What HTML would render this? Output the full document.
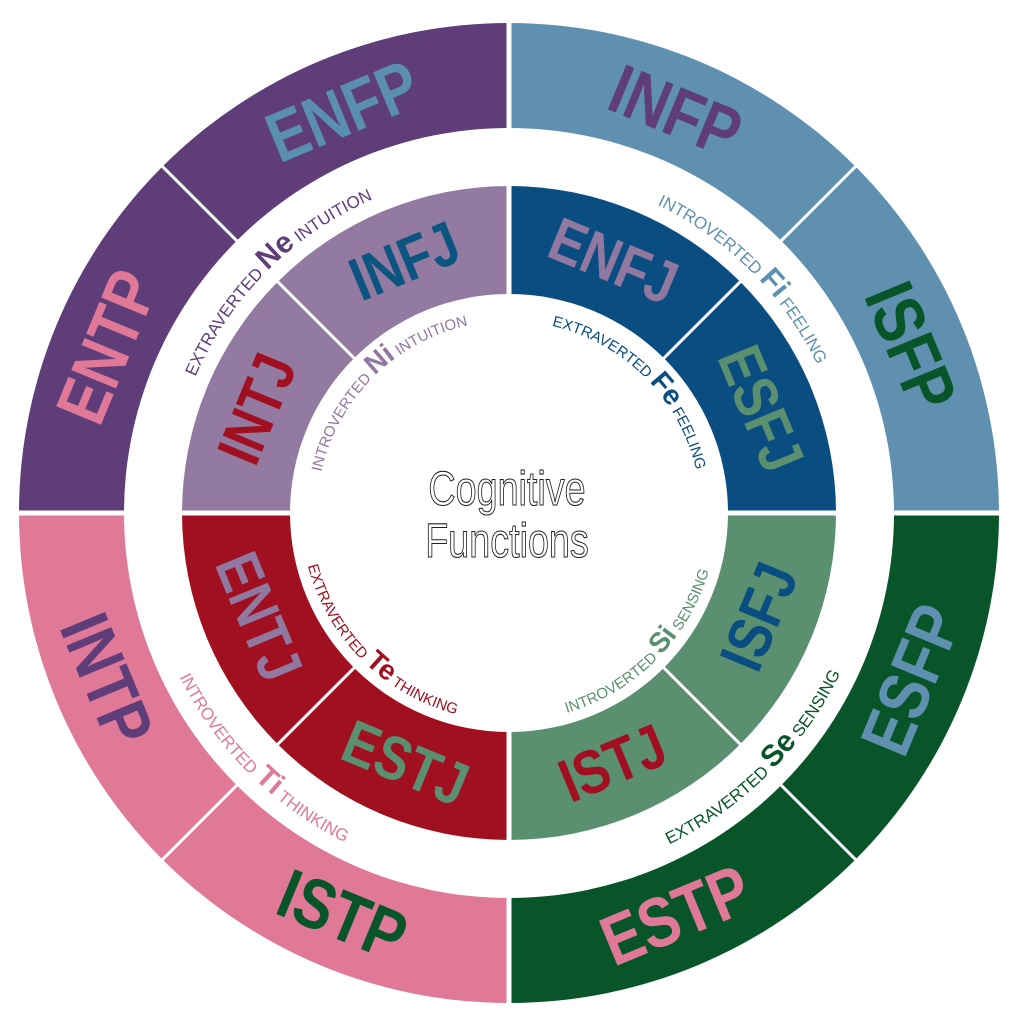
<!DOCTYPE html>
<html><head><meta charset="utf-8"><style>
html,body{margin:0;padding:0;background:#fff;}
svg{display:block}
.big{font-family:"Liberation Sans",sans-serif;font-weight:bold;font-size:64px;text-anchor:middle;dominant-baseline:central}
.mid{font-family:"Liberation Sans",sans-serif;font-weight:bold;font-size:56px;text-anchor:middle;dominant-baseline:central}
.lab{font-family:"Liberation Sans Narrow","Liberation Sans",sans-serif;font-size:17px;text-anchor:middle}
.ilab{font-family:"Liberation Sans Narrow","Liberation Sans",sans-serif;font-size:15px;text-anchor:middle}
.ab{font-weight:bold;font-size:30px;font-family:"Liberation Sans",sans-serif}
.iab{font-weight:bold;font-size:28px;font-family:"Liberation Sans",sans-serif}
</style></head><body>
<svg width="1024" height="1024" viewBox="0 0 1024 1024" xmlns="http://www.w3.org/2000/svg">
<defs>
<path id="ot" d="M170,512 A342,342 0 0 1 854,512"/>
<path id="ob" d="M144,512 A368,368 0 0 0 880,512"/>
<path id="it" d="M320,512 A192,192 0 0 1 704,512"/>
<path id="ib" d="M304,512 A208,208 0 0 0 720,512"/>
</defs>
<g transform="translate(-3,1)">
<path fill="#5e3d78" d="M22,512 A490,490 0 0 1 512,22 L512,127 A385,385 0 0 0 127,512Z"/>
<path fill="#6090b0" d="M512,22 A490,490 0 0 1 1002,512 L897,512 A385,385 0 0 0 512,127Z"/>
<path fill="#08552a" d="M1002,512 A490,490 0 0 1 512,1002 L512,897 A385,385 0 0 0 897,512Z"/>
<path fill="#e07898" d="M512,1002 A490,490 0 0 1 22,512 L127,512 A385,385 0 0 0 512,897Z"/>
<path fill="#927aa0" d="M185,512 A327,327 0 0 1 512,185 L512,293 A219,219 0 0 0 293,512Z"/>
<path fill="#0a4d80" d="M512,185 A327,327 0 0 1 839,512 L731,512 A219,219 0 0 0 512,293Z"/>
<path fill="#5a9070" d="M839,512 A327,327 0 0 1 512,839 L512,731 A219,219 0 0 0 731,512Z"/>
<path fill="#a01020" d="M512,839 A327,327 0 0 1 185,512 L293,512 A219,219 0 0 0 512,731Z"/>
<g stroke="#fff">
<line x1="512" y1="0" x2="512" y2="1024" stroke-width="5"/>
<line x1="0" y1="512" x2="1024" y2="512" stroke-width="5"/>
<line x1="0" y1="0" x2="1024" y2="1024" stroke-width="3"/>
<line x1="1024" y1="0" x2="0" y2="1024" stroke-width="3"/>
</g>
<text class="big" fill="#5a8fb0" transform="translate(345.5,110) rotate(-22.5) scale(0.92,1.1)">ENFP</text>
<text class="big" fill="#5e3d78" transform="translate(678.5,110) rotate(22.5) scale(0.92,1.1)">INFP</text>
<text class="big" fill="#e07898" transform="translate(110,345.5) rotate(-67.5) scale(0.92,1.1)">ENTP</text>
<text class="big" fill="#08552a" transform="translate(914,345.5) rotate(67.5) scale(0.92,1.1)">ISFP</text>
<text class="big" fill="#6090b0" transform="translate(914,678.5) rotate(-67.5) scale(0.92,1.1)">ESFP</text>
<text class="big" fill="#e07898" transform="translate(678.5,914) rotate(-22.5) scale(0.92,1.1)">ESTP</text>
<text class="big" fill="#08552a" transform="translate(345.5,914) rotate(22.5) scale(0.92,1.1)">ISTP</text>
<text class="big" fill="#5e3d78" transform="translate(110,678.5) rotate(67.5) scale(0.92,1.1)">INTP</text>
<text class="mid" fill="#0c5580" transform="translate(408,261) rotate(-22.5) scale(0.92,1.1)">INFJ</text>
<text class="mid" fill="#9078a0" transform="translate(616,261) rotate(22.5) scale(0.92,1.1)">ENFJ</text>
<text class="mid" fill="#a01020" transform="translate(261,408) rotate(-67.5) scale(0.92,1.1)">INTJ</text>
<text class="mid" fill="#5a9070" transform="translate(763,408) rotate(67.5) scale(0.92,1.1)">ESFJ</text>
<text class="mid" fill="#0a4d80" transform="translate(763,616) rotate(-67.5) scale(0.92,1.1)">ISFJ</text>
<text class="mid" fill="#a01020" transform="translate(616,763) rotate(-22.5) scale(0.92,1.1)">ISTJ</text>
<text class="mid" fill="#5a9070" transform="translate(408,763) rotate(22.5) scale(0.92,1.1)">ESTJ</text>
<text class="mid" fill="#9078a0" transform="translate(261,616) rotate(67.5) scale(0.92,1.1)">ENTJ</text>
<text class="lab" fill="#5e3d78"><textPath href="#ot" startOffset="25%">EXTRAVERTED <tspan class="ab">Ne</tspan> INTUITION</textPath></text>
<text class="lab" fill="#6090b0"><textPath href="#ot" startOffset="75%">INTROVERTED <tspan class="ab">Fi</tspan> FEELING</textPath></text>
<text class="lab" fill="#e07898"><textPath href="#ob" startOffset="25%">INTROVERTED <tspan class="ab">Ti</tspan> THINKING</textPath></text>
<text class="lab" fill="#08552a"><textPath href="#ob" startOffset="75%">EXTRAVERTED <tspan class="ab">Se</tspan> SENSING</textPath></text>
<text class="ilab" fill="#9078a0"><textPath href="#it" startOffset="25%">INTROVERTED <tspan class="iab">Ni</tspan> INTUITION</textPath></text>
<text class="ilab" fill="#0a4d80"><textPath href="#it" startOffset="75%">EXTRAVERTED <tspan class="iab">Fe</tspan> FEELING</textPath></text>
<text class="ilab" fill="#a01020"><textPath href="#ib" startOffset="25%">EXTRAVERTED <tspan class="iab">Te</tspan> THINKING</textPath></text>
<text class="ilab" fill="#5a9070"><textPath href="#ib" startOffset="75%">INTROVERTED <tspan class="iab">Si</tspan> SENSING</textPath></text>
<g font-family="Liberation Sans Narrow, Liberation Sans, sans-serif" font-size="46" text-anchor="middle" fill="#fff" stroke="#222" stroke-width="1">
<text transform="translate(510,504) scale(0.82,1.05)">Cognitive</text>
<text transform="translate(510,556) scale(0.82,1.05)">Functions</text>
</g>
</g>
</svg>
</body></html>
